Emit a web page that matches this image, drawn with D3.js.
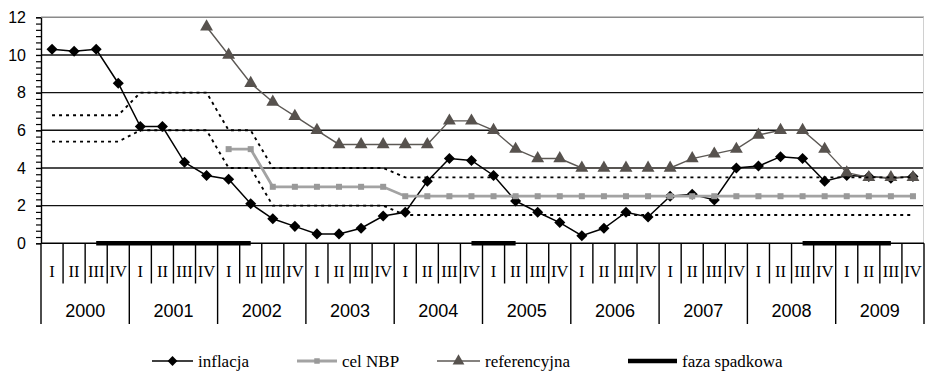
<!DOCTYPE html>
<html>
<head>
<meta charset="utf-8">
<script src="https://cdn.jsdelivr.net/npm/d3@7"></script>
<style>
  body { margin: 0; background: #fff; }
  svg { display: block; }
</style>
</head>
<body>
<svg id="chart"></svg>
<script>
// quarters 2000 I .. 2009 IV
var years = [2000, 2001, 2002, 2003, 2004, 2005, 2006, 2007, 2008, 2009];
var quarterLabels = ["I", "II", "III", "IV"];
var yTicks = [0, 2, 4, 6, 8, 10, 12];

var inflacja = [10.3, 10.2, 10.3, 8.5, 6.2, 6.2, 4.3, 3.6, 3.4, 2.1, 1.3, 0.9,
  0.5, 0.5, 0.8, 1.45, 1.65, 3.3, 4.5, 4.4, 3.6, 2.25, 1.65, 1.1,
  0.4, 0.8, 1.65, 1.4, 2.5, 2.6, 2.3, 4.0, 4.1, 4.6, 4.5, 3.3,
  3.6, 3.55, 3.45, 3.55];
var celNBP = [null, null, null, null, null, null, null, null, 5, 5, 3, 3,
  3, 3, 3, 3, 2.5, 2.5, 2.5, 2.5, 2.5, 2.5, 2.5, 2.5,
  2.5, 2.5, 2.5, 2.5, 2.5, 2.5, 2.5, 2.5, 2.5, 2.5, 2.5, 2.5,
  2.5, 2.5, 2.5, 2.5];
var referencyjna = [null, null, null, null, null, null, null, 11.5, 10, 8.5, 7.5, 6.75,
  6, 5.25, 5.25, 5.25, 5.25, 5.25, 6.5, 6.5, 6, 5, 4.5, 4.5,
  4, 4, 4, 4, 4, 4.5, 4.75, 5, 5.75, 6, 6, 5,
  3.75, 3.5, 3.5, 3.5];
var pasmoGorne = [6.8, 6.8, 6.8, 6.8, 8, 8, 8, 8, 6, 6, 4, 4,
  4, 4, 4, 4, 3.5, 3.5, 3.5, 3.5, 3.5, 3.5, 3.5, 3.5,
  3.5, 3.5, 3.5, 3.5, 3.5, 3.5, 3.5, 3.5, 3.5, 3.5, 3.5, 3.5,
  3.5, 3.5, 3.5, 3.5];
var pasmoDolne = [5.4, 5.4, 5.4, 5.4, 6, 6, 6, 6, 4, 4, 2, 2,
  2, 2, 2, 2, 1.5, 1.5, 1.5, 1.5, 1.5, 1.5, 1.5, 1.5,
  1.5, 1.5, 1.5, 1.5, 1.5, 1.5, 1.5, 1.5, 1.5, 1.5, 1.5, 1.5,
  1.5, 1.5, 1.5, 1.5];
// faza spadkowa: 0 where the phase lasts, null elsewhere
var fazaSpadkowa = [null, null, 0, 0, 0, 0, 0, 0, 0, 0, null, null,
  null, null, null, null, null, null, null, 0, 0, 0, null, null,
  null, null, null, null, null, null, null, null, null, null, 0, 0,
  0, 0, 0, null];

var width = 925, height = 371;
var plotLeft = 41, plotRight = 924, plotTop = 17.3, plotBottom = 243.3;
var sans = "'Liberation Sans', Arial, sans-serif";
var serif = "'Liberation Serif', 'Times New Roman', serif";

var svg = d3.select("#chart").attr("width", width).attr("height", height);

var idx = d3.range(inflacja.length);
var x = d3.scaleBand().domain(idx).range([plotLeft, plotRight]).padding(0);
var y = d3.scaleLinear().domain([0, 12]).range([plotBottom, plotTop]);
var cx = function (i) { return x(i) + x.bandwidth() / 2; };
var edge = function (i) { return i < idx.length ? x(i) : plotRight; };

// grid
svg.append("g").selectAll("line")
  .data(yTicks.filter(function (d) { return d > 0; }))
  .enter().append("line")
  .attr("x1", plotLeft).attr("x2", plotRight)
  .attr("y1", function (d) { return y(d); })
  .attr("y2", function (d) { return y(d); })
  .attr("stroke", function (d) { return d === 12 ? "#8a8a8a" : "#111"; })
  .attr("stroke-width", 1.4);
svg.append("line")
  .attr("x1", plotRight - 0.5).attr("x2", plotRight - 0.5)
  .attr("y1", plotTop).attr("y2", plotBottom)
  .attr("stroke", "#d0d0d0").attr("stroke-width", 1);

// y axis with minor ticks
var minor = d3.range(0, 12.001, 2 / 6);
svg.append("g")
  .attr("transform", "translate(" + plotLeft + ",0)")
  .call(d3.axisLeft(y).tickValues(minor).tickSize(5).tickFormat(""))
  .call(function (g) { g.select(".domain").remove(); })
  .selectAll("line").attr("stroke", "#000").attr("stroke-width", 1.2);
var yAxis = svg.append("g")
  .attr("transform", "translate(" + plotLeft + ",0)")
  .call(d3.axisLeft(y).tickValues(yTicks).tickSize(5).tickPadding(10).tickSizeOuter(0));
yAxis.select(".domain").attr("stroke", "#000").attr("stroke-width", 1.4);
yAxis.selectAll("line").attr("stroke", "#000").attr("stroke-width", 1.2);
yAxis.selectAll("text").style("font-family", sans).style("font-size", "16px").attr("fill", "#000");

// x axis, two levels
svg.append("line")
  .attr("x1", plotLeft).attr("x2", plotRight).attr("y1", plotBottom).attr("y2", plotBottom)
  .attr("stroke", "#000").attr("stroke-width", 1.4);
svg.append("g").selectAll("line")
  .data(d3.range(idx.length + 1))
  .enter().append("line")
  .attr("x1", function (i) { return edge(i); })
  .attr("x2", function (i) { return edge(i); })
  .attr("y1", plotBottom)
  .attr("y2", function (i) { return i % 4 === 0 ? 324 : 283.5; })
  .attr("stroke", "#000").attr("stroke-width", 1.4);
svg.append("g").selectAll("text")
  .data(idx)
  .enter().append("text")
  .attr("x", function (i) { return cx(i); })
  .attr("y", 277)
  .attr("text-anchor", "middle")
  .style("font-family", serif).style("font-size", "16.5px")
  .text(function (i) { return quarterLabels[i % 4]; });
svg.append("g").selectAll("text")
  .data(years)
  .enter().append("text")
  .attr("x", function (d, k) { return (x(k * 4) + edge(k * 4 + 4)) / 2; })
  .attr("y", 317.3)
  .attr("text-anchor", "middle")
  .style("font-family", sans).style("font-size", "18px")
  .text(function (d) { return d; });

// series
var line = d3.line()
  .defined(function (d) { return d != null; })
  .x(function (d, i) { return cx(i); })
  .y(function (d) { return y(d); });

svg.append("path").datum(inflacja)
  .attr("d", line).attr("fill", "none").attr("stroke", "#000").attr("stroke-width", 1.5);
svg.append("g").selectAll("path")
  .data(idx).enter().append("path")
  .attr("transform", function (i) { return "translate(" + cx(i) + "," + y(inflacja[i]) + ")"; })
  .attr("d", d3.symbol(d3.symbolDiamond2, 78)())
  .attr("fill", "#000");

svg.append("path").datum(celNBP)
  .attr("d", line).attr("fill", "none").attr("stroke", "#a3a3a3").attr("stroke-width", 2.8);
svg.append("g").selectAll("rect")
  .data(idx.filter(function (i) { return celNBP[i] != null; })).enter().append("rect")
  .attr("x", function (i) { return cx(i) - 3; })
  .attr("y", function (i) { return y(celNBP[i]) - 3; })
  .attr("width", 6).attr("height", 6)
  .attr("fill", "#999");

svg.append("path").datum(referencyjna)
  .attr("d", line).attr("fill", "none").attr("stroke", "#5c5854").attr("stroke-width", 1.4);
svg.append("g").selectAll("path")
  .data(idx.filter(function (i) { return referencyjna[i] != null; })).enter().append("path")
  .attr("transform", function (i) { return "translate(" + cx(i) + "," + y(referencyjna[i]) + ")"; })
  .attr("d", d3.symbol(d3.symbolTriangle, 72)())
  .attr("fill", "#57524e");

[pasmoGorne, pasmoDolne].forEach(function (s) {
  svg.append("path").datum(s)
    .attr("d", line).attr("fill", "none").attr("stroke", "#000")
    .attr("stroke-width", 1.9).attr("stroke-dasharray", "3,4");
});

svg.append("path").datum(fazaSpadkowa)
  .attr("d", line).attr("fill", "none").attr("stroke", "#000").attr("stroke-width", 4.5);

// legend
var legendY = 361;
var legend = [
  { name: "inflacja", x: 152, len: 41, kind: "diamond" },
  { name: "cel NBP", x: 297, len: 40, kind: "square" },
  { name: "referencyjna", x: 437, len: 43, kind: "triangle" },
  { name: "faza spadkowa", x: 628, len: 49, kind: "bar" }
];
var lg = svg.append("g").selectAll("g").data(legend).enter().append("g");
lg.append("line")
  .attr("x1", function (d) { return d.x; })
  .attr("x2", function (d) { return d.x + d.len; })
  .attr("y1", legendY).attr("y2", legendY)
  .attr("stroke", function (d) {
    return d.kind === "square" ? "#a3a3a3" : d.kind === "triangle" ? "#5c5854" : "#000";
  })
  .attr("stroke-width", function (d) {
    return d.kind === "bar" ? 4.5 : d.kind === "square" ? 2.8 : 1.5;
  });
lg.filter(function (d) { return d.kind !== "bar"; })
  .append("path")
  .attr("transform", function (d) { return "translate(" + (d.x + d.len / 2) + "," + legendY + ")"; })
  .attr("d", function (d) {
    if (d.kind === "diamond") return d3.symbol(d3.symbolDiamond2, 62)();
    if (d.kind === "triangle") return d3.symbol(d3.symbolTriangle, 60)();
    return d3.symbol(d3.symbolSquare, 30)();
  })
  .attr("fill", function (d) {
    return d.kind === "diamond" ? "#000" : d.kind === "triangle" ? "#57524e" : "#999";
  });
lg.append("text")
  .attr("x", function (d) { return d.x + d.len + 5; })
  .attr("y", legendY + 6)
  .style("font-family", serif).style("font-size", "17px")
  .text(function (d) { return d.name; });
</script>
</body>
</html>
